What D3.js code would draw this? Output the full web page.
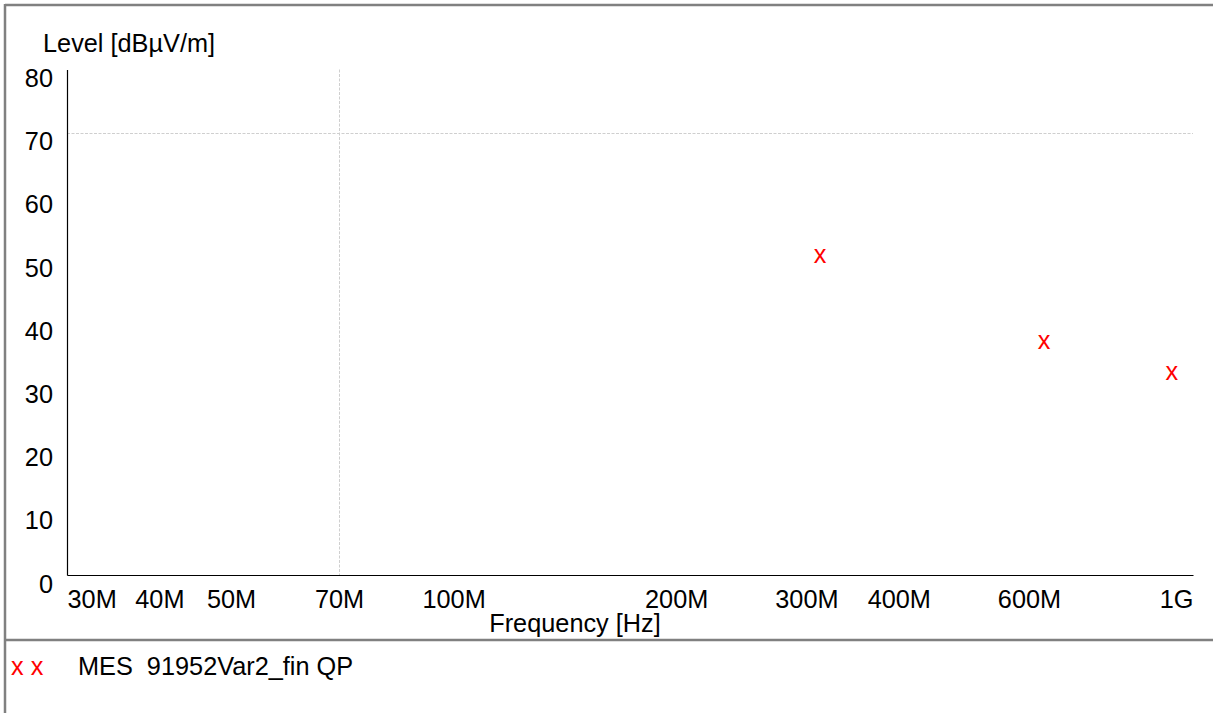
<!DOCTYPE html>
<html>
<head>
<meta charset="utf-8">
<script src="https://cdn.jsdelivr.net/npm/d3@7"></script>
<style>
  html, body { margin: 0; padding: 0; background: #fff; }
  svg { display: block; font-family: "Liberation Sans", Arial, sans-serif; }
  text { white-space: pre; }
</style>
</head>
<body>
<svg id="chart" width="1213" height="713"></svg>
<script>
// Final QP measurement points (frequency in Hz, level in dBµV/m)
const measFreq = [313e6, 629e6, 936e6];
const measLevel = [50.5, 37.0, 32.0];

// Axis ticks
const xTickValues = [30e6, 40e6, 50e6, 70e6, 100e6, 200e6, 300e6, 400e6, 600e6, 1e9];
const xTickLabels = ["30M", "40M", "50M", "70M", "100M", "200M", "300M", "400M", "600M", "1G"];
const yTickValues = [0, 10, 20, 30, 40, 50, 60, 70, 80];

// Grid lines drawn dashed
const xGridValues = [70e6];
const yGridValues = [70];

const legendLabel = "MES  91952Var2_fin QP";

const FS = 25.3;
const svg = d3.select("#chart");
const W = 1213, H = 713;
const plot = { left: 67, right: 1193, top: 69.5, bottom: 575 };

const x = d3.scaleLog().domain([30e6, 1e9]).range([plot.left, plot.right]);
const y = d3.scaleLinear().domain([0, 80]).range([plot.bottom, plot.top]);

// Outer frame and legend separator
const frame = svg.append("g").attr("stroke", "#808080").attr("stroke-width", 2.5).attr("fill", "none");
frame.append("line").attr("x1", 5).attr("x2", W).attr("y1", 5).attr("y2", 5);
frame.append("line").attr("x1", 5).attr("x2", 5).attr("y1", 4).attr("y2", H);
frame.append("line").attr("x1", 5).attr("x2", W).attr("y1", 640).attr("y2", 640);

// Dashed grid
const grid = svg.append("g").attr("stroke", "#cfcfcf").attr("stroke-width", 1).attr("stroke-dasharray", "3,1.5");
grid.selectAll("line.h").data(yGridValues).join("line")
  .attr("x1", plot.left).attr("x2", plot.right)
  .attr("y1", d => Math.round(y(d)) + 0.5).attr("y2", d => Math.round(y(d)) + 0.5);
grid.selectAll("line.v").data(xGridValues).join("line")
  .attr("x1", d => Math.round(x(d)) + 0.5).attr("x2", d => Math.round(x(d)) + 0.5)
  .attr("y1", plot.top).attr("y2", plot.bottom);

// Axes
const xAxis = d3.axisBottom(x).tickValues(xTickValues).tickSize(0)
  .tickFormat((d, i) => xTickLabels[i]);
const gx = svg.append("g").attr("transform", `translate(0,${plot.bottom})`).call(xAxis);
gx.select(".domain").attr("stroke", "#000").attr("stroke-width", 1.2);
gx.selectAll(".tick text")
  .attr("font-size", FS).attr("fill", "#000").attr("font-family", "Liberation Sans, Arial, sans-serif")
  .attr("y", 32.5).attr("dy", 0)
  .attr("text-anchor", (d, i) => i === 0 ? "start" : (i === xTickValues.length - 1 ? "end" : "middle"));

const yAxis = d3.axisLeft(y).tickValues(yTickValues).tickSize(0).tickFormat(d3.format("d"));
const gy = svg.append("g").attr("transform", `translate(${plot.left},0)`).call(yAxis);
gy.select(".domain").attr("stroke", "#000").attr("stroke-width", 1.2);
gy.selectAll(".tick text")
  .attr("font-size", FS).attr("fill", "#000").attr("font-family", "Liberation Sans, Arial, sans-serif")
  .attr("x", -14).attr("dy", 17);

// Axis titles
svg.append("text").attr("x", 43).attr("y", 52).attr("font-size", FS).text("Level [dBµV/m]");
svg.append("text").attr("x", 575).attr("y", 632).attr("font-size", FS)
  .attr("text-anchor", "middle").text("Frequency [Hz]");

// Measurement markers
const pts = measFreq.map((f, i) => ({ f, v: measLevel[i] }));
svg.append("g").selectAll("text").data(pts).join("text")
  .attr("x", d => x(d.f)).attr("y", d => y(d.v))
  .attr("dy", 7.5)
  .attr("text-anchor", "middle").attr("font-size", FS).attr("fill", "#ff0000")
  .text("x");

// Legend
svg.append("text").attr("x", 11).attr("y", 675).attr("font-size", FS).attr("fill", "#ff0000")
  .attr("xml:space", "preserve").text("x x");
svg.append("text").attr("x", 78).attr("y", 675).attr("font-size", FS).attr("fill", "#000")
  .attr("xml:space", "preserve").text(legendLabel);
</script>
</body>
</html>
